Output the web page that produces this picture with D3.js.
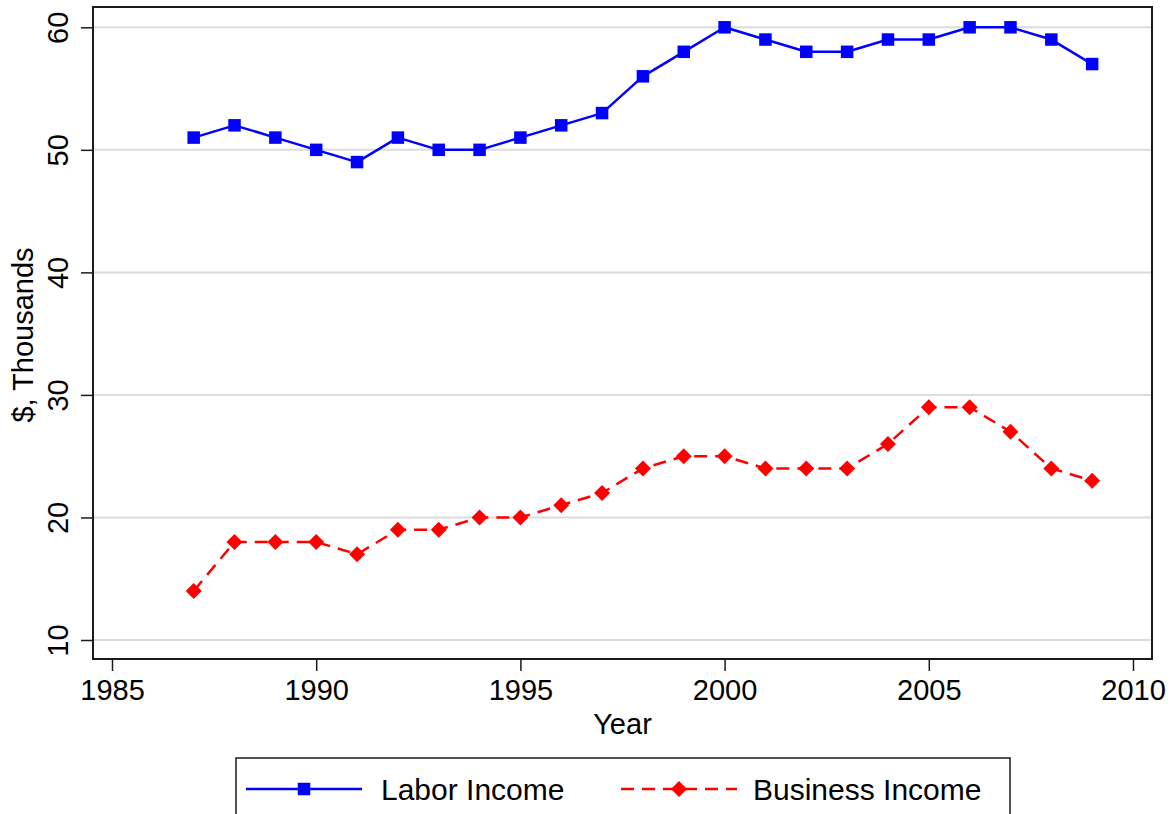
<!DOCTYPE html>
<html>
<head>
<meta charset="utf-8">
<script src="https://cdn.jsdelivr.net/npm/d3@7"></script>
<style>
  html, body { margin: 0; padding: 0; background: #fff; }
  svg { display: block; font-family: "Liberation Sans", Arial, Helvetica, sans-serif; }
</style>
</head>
<body>
<svg id="chart" width="1175" height="814"></svg>
<script>
// Mean income per year, $ thousands
const years = [1987, 1988, 1989, 1990, 1991, 1992, 1993, 1994, 1995, 1996, 1997, 1998,
               1999, 2000, 2001, 2002, 2003, 2004, 2005, 2006, 2007, 2008, 2009];
const laborIncome = [51, 52, 51, 50, 49, 51, 50, 50, 51, 52, 53, 56,
                     58, 60, 59, 58, 58, 59, 59, 60, 60, 59, 57];
const businessIncome = [14, 18, 18, 18, 17, 19, 19, 20, 20, 21, 22, 24,
                        25, 25, 24, 24, 24, 26, 29, 29, 27, 24, 23];
const xTicks = [1985, 1990, 1995, 2000, 2005, 2010];
const yTicks = [10, 20, 30, 40, 50, 60];
const seriesNames = ["Labor Income", "Business Income"];

const svg = d3.select("#chart");

const x = d3.scaleLinear().domain([1985, 2010]).range([112, 1133]);
const y = d3.scaleLinear().domain([10, 60]).range([640, 27.3]);

// plot region extends a little beyond the outer ticks
const frame = { left: 93, right: 1152, top: 7, bottom: 659 };

// horizontal grid
svg.append("g")
  .selectAll("line")
  .data(yTicks)
  .join("line")
  .attr("x1", frame.left).attr("x2", frame.right)
  .attr("y1", d => y(d)).attr("y2", d => y(d))
  .attr("stroke", "#dcdcdc").attr("stroke-width", 2);

// axes
const xAxis = svg.append("g")
  .attr("transform", `translate(0,${frame.bottom})`)
  .call(d3.axisBottom(x).tickValues(xTicks).tickFormat(d3.format("d")).tickSize(12).tickPadding(8).tickSizeOuter(0));
xAxis.select(".domain").remove();
xAxis.selectAll(".tick line").attr("stroke", "#1a1a1a").attr("stroke-width", 1.5);
xAxis.selectAll(".tick text").attr("font-size", 29).attr("fill", "#000")
  .attr("font-family", "Liberation Sans, Arial, sans-serif");

const yAxis = svg.append("g")
  .attr("transform", `translate(${frame.left},0)`)
  .call(d3.axisLeft(y).tickValues(yTicks).tickSize(12).tickFormat(d3.format("d")).tickSizeOuter(0));
yAxis.select(".domain").remove();
yAxis.selectAll(".tick line").attr("stroke", "#1a1a1a").attr("stroke-width", 1.5);
yAxis.selectAll(".tick text")
  .attr("font-size", 29).attr("fill", "#000")
  .attr("font-family", "Liberation Sans, Arial, sans-serif")
  .attr("x", null).attr("dy", null)
  .attr("text-anchor", "middle")
  .attr("transform", `translate(${68 - frame.left},0) rotate(-90)`);

// frame
svg.append("rect")
  .attr("x", frame.left).attr("y", frame.top)
  .attr("width", frame.right - frame.left).attr("height", frame.bottom - frame.top)
  .attr("fill", "none").attr("stroke", "#1a1a1a").attr("stroke-width", 2);

// axis titles
svg.append("text")
  .attr("x", (x(1985) + x(2010)) / 2).attr("y", 734)
  .attr("text-anchor", "middle").attr("font-size", 29).text("Year");

svg.append("text")
  .attr("transform", `translate(33,335) rotate(-90)`)
  .attr("text-anchor", "middle").attr("font-size", 29).text("$, Thousands");

const line = d3.line().x(d => x(d[0])).y(d => y(d[1]));
const laborPts = years.map((yr, i) => [yr, laborIncome[i]]);
const busPts = years.map((yr, i) => [yr, businessIncome[i]]);

const blue = "#0000ff", red = "#ff0000";
const dash = "13,8";
const sq = 12.5, dm = 8;

// labor income: solid line with squares
svg.append("path").datum(laborPts)
  .attr("d", line).attr("fill", "none")
  .attr("stroke", blue).attr("stroke-width", 2.5).attr("stroke-linejoin", "round");
svg.append("g").selectAll("rect").data(laborPts).join("rect")
  .attr("x", d => x(d[0]) - sq / 2).attr("y", d => y(d[1]) - sq / 2)
  .attr("width", sq).attr("height", sq).attr("fill", blue);

// business income: dashed line with diamonds
svg.append("path").datum(busPts)
  .attr("d", line).attr("fill", "none")
  .attr("stroke", red).attr("stroke-width", 2.5).attr("stroke-dasharray", dash);
const diamond = (cx, cy) => `M${cx},${cy - dm}L${cx + dm},${cy}L${cx},${cy + dm}L${cx - dm},${cy}Z`;
svg.append("g").selectAll("path").data(busPts).join("path")
  .attr("d", d => diamond(x(d[0]), y(d[1]))).attr("fill", red);

// legend
const lg = svg.append("g");
lg.append("rect").attr("x", 236).attr("y", 758).attr("width", 774).attr("height", 70)
  .attr("fill", "#fff").attr("stroke", "#1a1a1a").attr("stroke-width", 1.5);
const ly = 789;
lg.append("line").attr("x1", 246).attr("x2", 362).attr("y1", ly).attr("y2", ly)
  .attr("stroke", blue).attr("stroke-width", 2.5);
lg.append("rect").attr("x", 304 - sq / 2).attr("y", ly - sq / 2).attr("width", sq).attr("height", sq).attr("fill", blue);
lg.append("text").attr("x", 381).attr("y", ly + 10.5).attr("font-size", 30).text(seriesNames[0]);

lg.append("line").attr("x1", 621).attr("x2", 737).attr("y1", ly).attr("y2", ly)
  .attr("stroke", red).attr("stroke-width", 2.5).attr("stroke-dasharray", dash);
lg.append("path").attr("d", diamond(679, ly)).attr("fill", red);
lg.append("text").attr("x", 753).attr("y", ly + 10.5).attr("font-size", 30).text(seriesNames[1]);
</script>
</body>
</html>
